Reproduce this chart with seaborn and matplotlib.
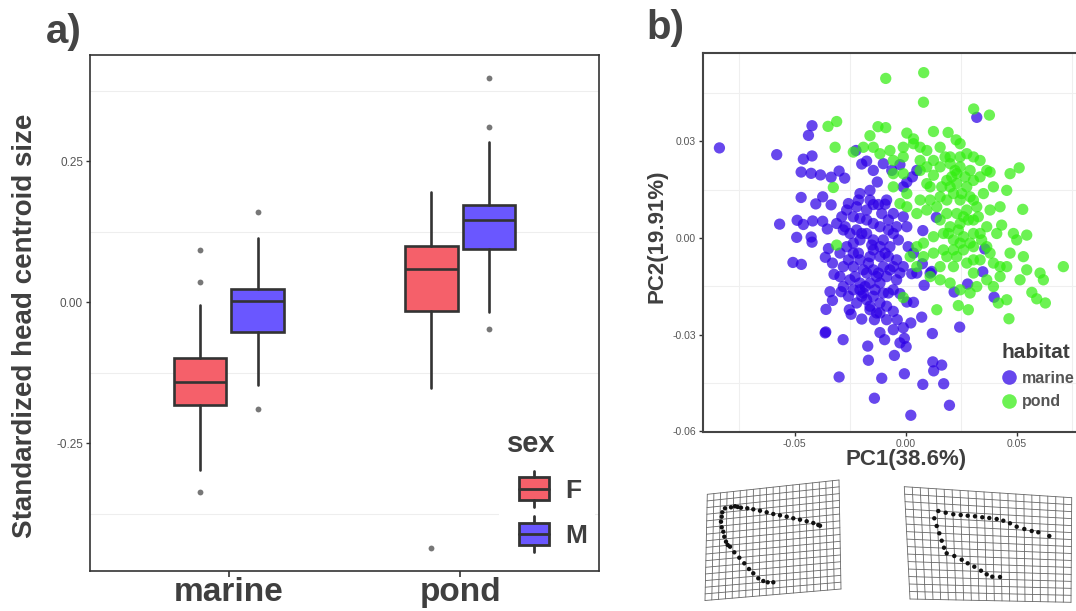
import numpy as np
import pandas as pd
import seaborn as sns
import matplotlib
matplotlib.use('Agg')
import matplotlib.pyplot as plt
from matplotlib.patches import Patch, Rectangle
from matplotlib.lines import Line2D
from matplotlib.legend_handler import HandlerBase

# ---- panel a: head centroid size by habitat and sex (box summaries) ----
habitats = ['marine', 'pond']
sexes = ['F', 'M']
# order: marine F, marine M, pond F, pond M
box_whislo = [-0.297, -0.147, -0.152, -0.017]
box_q1 = [-0.183, -0.053, -0.016, 0.095]
box_med = [-0.142, 0.002, 0.059, 0.146]
box_q3 = [-0.098, 0.024, 0.100, 0.173]
box_whishi = [-0.004, 0.114, 0.195, 0.285]
box_fliers = [[0.093, 0.036, -0.336], [0.160, -0.189], [-0.435], [0.398, 0.310, -0.047]]

# ---- panel b: PCA scores ----
marine_pc1 = [
    -0.0839, -0.0581, -0.0422, -0.0438, -0.0461, -0.0422, -0.0471, -0.0426, -0.0384, -0.0336,
    -0.0300, -0.0275, -0.0471, -0.0374, -0.0405, -0.0336, -0.0568, -0.0489, -0.0461, -0.0419,
    -0.0374, -0.0491, -0.0426, -0.0422, -0.0508, -0.0470, -0.0353, -0.0348, -0.0362, -0.0296,
    -0.0330, -0.0323, -0.0341, -0.0291, -0.0359, -0.0330, -0.0254, -0.0246, -0.0363, -0.0360,
    -0.0282, -0.0171, -0.0168, -0.0198, -0.0116, -0.0095, -0.0051, -0.0006, 0.0002, -0.0006,
    -0.0108, -0.0300, -0.0141, 0.0023, 0.0077, 0.0122, 0.0162, 0.0126, 0.0171, 0.0197,
    0.0120, 0.0072, 0.0243, 0.0218, 0.0279, 0.0347, 0.0398, 0.0356, 0.0320, 0.0138,
    0.0077, 0.0011, 0.0075, 0.0117, 0.0083, 0.0027, 0.0035, -0.0026, 0.0005, 0.0023,
    -0.0011, -0.0038, -0.0056, -0.0086, -0.0131, -0.0161, -0.0224, -0.0198, -0.0176, -0.0146,
    -0.0101, -0.0063, -0.0026, 0.0030, 0.0050, 0.0005, -0.0128, -0.0161, -0.0206, -0.0123,
    -0.0093, -0.0146, -0.0266, -0.0288, -0.0236, -0.0206, -0.0176, -0.0146, -0.0116, -0.0078,
    -0.0041, -0.0011, 0.0005, -0.0056, -0.0033, -0.0071, -0.0116, -0.0146, -0.0176, -0.0221,
    -0.0251, -0.0281, -0.0311, -0.0266, -0.0236, -0.0206, -0.0161, -0.0116, -0.0078, -0.0041,
    -0.0011, -0.0056, -0.0101, -0.0146, -0.0191, -0.0236, -0.0281, -0.0296, -0.0251, -0.0206,
    -0.0161, -0.0116, -0.0086, -0.0041, -0.0056, -0.0101, -0.0146, -0.0191, -0.0236, -0.0281,
    -0.0221, -0.0176, -0.0116, -0.0086, -0.0141, -0.0056, -0.0026, 0.0050, 0.0035, 0.0110,
    -0.0221, -0.0176, -0.0086, -0.0056, -0.0101, -0.0206, -0.0146, -0.0236, -0.0176, -0.0131,
    -0.0071, -0.0206, -0.0161, -0.0116, -0.0011,
    -0.0258, -0.0213, -0.0161, -0.0108, -0.0078, -0.0273, -0.0198, -0.0153, -0.0093, -0.0213,
    -0.0258, -0.0168, -0.0123, -0.0228, -0.0183, -0.0138, -0.0078, -0.0198, -0.0258, -0.0026,
]
marine_pc2 = [
    0.0280, 0.0259, 0.0349, 0.0319, 0.0245, 0.0255, 0.0205, 0.0201, 0.0196, 0.0189,
    0.0208, 0.0186, 0.0126, 0.0128, 0.0106, 0.0103, 0.0043, 0.0055, 0.0042, 0.0053,
    0.0052, 0.0002, 0.0003, -0.0013, -0.0076, -0.0082, 0.0028, -0.0033, -0.0060, -0.0047,
    -0.0078, -0.0113, -0.0167, -0.0167, -0.0222, -0.0194, -0.0223, -0.0237, -0.0295, -0.0292,
    -0.0316, -0.0336, -0.0380, -0.0252, -0.0294, -0.0316, -0.0365, -0.0312, -0.0338, -0.0422,
    -0.0436, -0.0432, -0.0498, -0.0551, -0.0455, -0.0385, -0.0395, -0.0413, -0.0453, -0.0520,
    -0.0297, -0.0246, -0.0277, -0.0168, -0.0143, -0.0105, -0.0184, -0.0034, 0.0375, 0.0064,
    0.0023, -0.0027, -0.0080, -0.0104, -0.0147, -0.0111, -0.0200, -0.0173, -0.0199, -0.0264,
    -0.0279, -0.0254, -0.0228, -0.0254, -0.0233, -0.0212, 0.0272, 0.0230, 0.0239, 0.0210,
    0.0231, 0.0210, 0.0228, 0.0190, 0.0210, 0.0174, 0.0174, 0.0148, 0.0138, 0.0104,
    0.0105, 0.0104, 0.0087, 0.0066, 0.0066, 0.0061, 0.0056, 0.0045, 0.0035, 0.0025,
    0.0035, 0.0066, 0.0035, 0.0076, -0.0006, -0.0027, -0.0027, -0.0006, 0.0014, 0.0025,
    0.0014, 0.0025, 0.0045, -0.0027, -0.0047, -0.0068, -0.0058, -0.0058, -0.0058, -0.0068,
    -0.0089, -0.0089, -0.0089, -0.0099, -0.0099, -0.0089, -0.0089, -0.0120, -0.0130, -0.0140,
    -0.0140, -0.0140, -0.0120, -0.0130, -0.0161, -0.0171, -0.0181, -0.0171, -0.0161, -0.0151,
    -0.0202, -0.0192, -0.0202, -0.0212, -0.0254, -0.0285, -0.0326, -0.0109, -0.0047, -0.0109,
    0.0097, 0.0087, 0.0118, 0.0014, -0.0006, -0.0006, -0.0037, -0.0016, -0.0109, -0.0120,
    -0.0099, -0.0161, -0.0223, -0.0233, 0.0159,
    0.0107, 0.0118, 0.0118, 0.0076, 0.0056, 0.0035, 0.0014, -0.0022, -0.0047, -0.0047,
    -0.0068, -0.0078, -0.0109, -0.0120, -0.0151, -0.0161, -0.0171, -0.0181, -0.0181, -0.0109,
]
pond_pc1 = [
    -0.0090, 0.0081, 0.0080, 0.0306, 0.0377, -0.0350, -0.0311, -0.0125, -0.0090, -0.0161,
    0.0005, 0.0035, 0.0125, 0.0191, 0.0227, 0.0245, -0.0318, -0.0236, -0.0191, -0.0146,
    -0.0116, -0.0071, -0.0011, 0.0035, 0.0065, 0.0095, 0.0155, 0.0200, 0.0245, 0.0275,
    0.0305, 0.0335, -0.0056, -0.0011, 0.0065, 0.0125, 0.0155, 0.0200, 0.0245, 0.0290,
    0.0365, 0.0380, 0.0470, 0.0511, -0.0056, -0.0011, 0.0065, 0.0125, 0.0185, 0.0230,
    0.0275, 0.0305, 0.0335, 0.0395, 0.0455, -0.0326, -0.0056, 0.0005, 0.0065, 0.0110,
    0.0155, 0.0200, 0.0215, 0.0245, 0.0290, 0.0350, 0.0425, 0.0527, 0.0320, 0.0275,
    0.0230, 0.0185, 0.0140, 0.0095, 0.0050, 0.0005, -0.0026, 0.0155, 0.0200, 0.0245,
    0.0305, 0.0365, 0.0432, 0.0485, 0.0545, 0.0500, 0.0305, 0.0260, 0.0215, 0.0170,
    0.0125, 0.0080, 0.0050, 0.0020, 0.0080, 0.0125, 0.0170, 0.0215, 0.0260, 0.0305,
    0.0365, 0.0470, 0.0530, 0.0710, 0.0605, 0.0620, 0.0545, 0.0515, 0.0425, 0.0425,
    0.0395, 0.0320, 0.0290, 0.0245, 0.0200, 0.0155, 0.0110, 0.0050, 0.0155, 0.0215,
    0.0275, 0.0335, 0.0395, 0.0455, 0.0568, 0.0590, 0.0629, 0.0417, 0.0455, 0.0465,
    0.0282, 0.0237, 0.0140, -0.0011, -0.0311, 0.0230, 0.0185, 0.0260, 0.0380, 0.0335,
    0.0230, 0.0305, 0.0365, 0.0095, 0.0305,
    0.0177, 0.0222, 0.0267, 0.0207, 0.0162, 0.0252, 0.0327, 0.0282, 0.0237, 0.0192,
    0.0342, 0.0290, 0.0245, 0.0185, 0.0380, 0.0110, 0.0095, 0.0410, 0.0305,
]
pond_pc2 = [
    0.0496, 0.0514, 0.0422, 0.0401, 0.0382, 0.0347, 0.0362, 0.0346, 0.0343, 0.0318,
    0.0326, 0.0308, 0.0331, 0.0328, 0.0305, 0.0293, 0.0282, 0.0267, 0.0282, 0.0282,
    0.0262, 0.0272, 0.0282, 0.0293, 0.0282, 0.0272, 0.0282, 0.0252, 0.0252, 0.0262,
    0.0252, 0.0241, 0.0241, 0.0252, 0.0241, 0.0241, 0.0221, 0.0231, 0.0221, 0.0210,
    0.0210, 0.0205, 0.0200, 0.0218, 0.0200, 0.0200, 0.0210, 0.0195, 0.0179, 0.0169,
    0.0159, 0.0179, 0.0190, 0.0159, 0.0148, 0.0157, 0.0159, 0.0138, 0.0118, 0.0118,
    0.0128, 0.0159, 0.0138, 0.0118, 0.0128, 0.0138, 0.0097, 0.0089, 0.0097, 0.0087,
    0.0076, 0.0076, 0.0097, 0.0087, 0.0076, 0.0097, 0.0107, 0.0056, 0.0035, 0.0045,
    0.0056, 0.0035, 0.0040, 0.0014, 0.0009, -0.0006, 0.0014, 0.0004, -0.0006, 0.0014,
    0.0004, -0.0016, -0.0027, -0.0058, -0.0058, -0.0047, -0.0037, -0.0037, -0.0037, -0.0027,
    -0.0027, -0.0047, -0.0058, -0.0089, -0.0109, -0.0130, -0.0099, -0.0130, -0.0089, -0.0120,
    -0.0151, -0.0151, -0.0171, -0.0161, -0.0140, -0.0130, -0.0120, -0.0089, -0.0089, -0.0089,
    -0.0078, -0.0068, -0.0078, -0.0089, -0.0169, -0.0189, -0.0202, -0.0202, -0.0192, -0.0251,
    -0.0223, -0.0210, -0.0223, -0.0185, -0.0022, 0.0200, 0.0118, 0.0066, 0.0087, 0.0014,
    -0.0058, -0.0109, -0.0130, 0.0169, 0.0118,
    0.0252, 0.0210, 0.0190, 0.0190, 0.0159, 0.0138, 0.0066, 0.0056, 0.0025, 0.0014,
    -0.0006, -0.0016, -0.0016, -0.0058, -0.0047, 0.0159, 0.0221, 0.0014, -0.0068,
]

# ---- deformation grids (pixel units of each thumbnail) ----
left_corners = [(12.3, 19.3), (144.0, 5.0), (146.0, 114.0), (10.0, 125.5)]
left_lm_x = [30.0, 36.0, 40.0, 42.7, 46.0, 52.3, 58.3, 65.0, 71.7, 78.3, 85.0, 91.7, 98.3,
             105.0, 111.7, 118.3, 123.3, 125.0, 27.3, 26.7, 26.0, 26.7, 28.3, 29.3, 31.0,
             32.7, 35.0, 39.3, 44.3, 49.3, 54.0, 58.3, 63.3, 68.3, 72.7, 78.3]
left_lm_y = [33.3, 32.3, 31.3, 32.0, 32.7, 33.3, 34.3, 35.7, 37.3, 39.0, 40.3, 41.7, 43.3,
             44.7, 46.3, 48.0, 50.0, 50.7, 37.3, 41.7, 46.7, 52.3, 56.7, 61.7, 66.7,
             70.0, 71.7, 77.3, 82.7, 88.3, 94.0, 98.3, 103.3, 106.0, 107.3, 107.3]
right_corners = [(9.3, 11.7), (176.7, 22.7), (176.0, 127.3), (15.0, 124.0)]
right_lm_x = [43.3, 50.7, 58.3, 65.7, 72.7, 80.0, 87.3, 94.3, 101.7, 108.3, 115.0, 121.7,
              129.3, 136.7, 143.3, 154.3, 39.3, 41.7, 44.3, 46.7, 49.0, 51.7, 59.3, 66.7,
              72.7, 79.3, 86.0, 91.7, 97.3, 105.0]
right_lm_y = [36.0, 37.7, 39.3, 40.0, 40.7, 41.3, 42.3, 43.0, 44.0, 45.7, 48.3, 51.7,
              54.0, 56.0, 57.3, 61.0, 43.3, 51.0, 58.3, 65.7, 72.7, 78.3, 81.0, 84.7,
              88.3, 91.7, 95.7, 99.3, 101.7, 102.0]

RED = '#f5606a'
BLUE = '#6a57ff'
TXT = '#3f3f3f'
EDGE = '#333333'

sns.set_theme(style='white')
plt.rcParams['font.family'] = ['Liberation Sans', 'DejaVu Sans']
plt.rcParams['axes.unicode_minus'] = False

fig = plt.figure(figsize=(10.76, 6.11), dpi=100)
W, H = 1076, 611


def px_axes(l, t, r, b):
    return fig.add_axes([l / W, 1 - b / H, (r - l) / W, (b - t) / H])


class BoxKey(HandlerBase):
    # mini boxplot key, drawn in the right part of the handle box so that the
    # legend title sits a little to the left of the keys (as in ggplot)
    def create_artists(self, legend, orig, xd, yd, w, h, fontsize, trans):
        fc = orig.get_facecolor()
        bw = h * 1.32
        x0, y0 = -xd + w - bw, -yd
        rect = Rectangle((x0, y0), bw, h, facecolor=fc, edgecolor=EDGE, lw=2, transform=trans)
        med = Line2D([x0, x0 + bw], [y0 + h / 2] * 2, color=EDGE, lw=2, transform=trans)
        top = Line2D([x0 + bw / 2] * 2, [y0 + h, y0 + h * 1.3], color=EDGE, lw=2, transform=trans)
        bot = Line2D([x0 + bw / 2] * 2, [y0, y0 - h * 0.3], color=EDGE, lw=2, transform=trans)
        return [rect, med, top, bot]


# ---------------- panel a ----------------
ax_a = px_axes(90, 55, 599, 571)
for y in [-0.375, -0.125, 0.125, 0.375]:
    ax_a.axhline(y, color='#eeeeee', lw=0.8, zorder=0)

stats = []
positions = []
colors = []
for i, hab in enumerate(habitats):
    for j, sx in enumerate(sexes):
        k = i * 2 + j
        stats.append(dict(med=box_med[k], q1=box_q1[k], q3=box_q3[k],
                          whislo=box_whislo[k], whishi=box_whishi[k],
                          fliers=box_fliers[k], label=f'{hab} {sx}'))
        positions.append(i + (-0.125 if sx == 'F' else 0.125))
        colors.append(RED if sx == 'F' else BLUE)

bp = ax_a.bxp(stats, positions=positions, widths=0.227, patch_artist=True,
              showcaps=False, manage_ticks=False,
              boxprops=dict(edgecolor=EDGE, linewidth=1.9),
              medianprops=dict(color=EDGE, linewidth=1.9),
              whiskerprops=dict(color=EDGE, linewidth=1.9),
              flierprops=dict(marker='o', markerfacecolor='#777777', markeredgecolor='none',
                              markersize=4.2))
for patch, c in zip(bp['boxes'], colors):
    patch.set_facecolor(c)

ax_a.set_xlim(-0.6, 1.6)
ax_a.set_ylim(-0.4765, 0.4385)
ax_a.set_xticks([0, 1])
ax_a.set_xticklabels(habitats, fontsize=24, fontweight='bold', color=TXT)
ax_a.set_yticks([-0.25, 0, 0.25])
ax_a.set_yticklabels(['-0.25', '0.00', '0.25'], fontsize=8.5, color='#555555')
ax_a.tick_params(axis='x', length=4, width=1.2, color=EDGE, pad=0, bottom=True)
ax_a.tick_params(axis='y', length=3, width=1.0, color=EDGE, pad=2, left=True)
for sp in ax_a.spines.values():
    sp.set_color(EDGE)
    sp.set_linewidth(1.2)

leg_a = ax_a.legend(handles=[Patch(facecolor=RED), Patch(facecolor=BLUE)], labels=sexes,
                    title='sex', handler_map={Patch: BoxKey()},
                    loc='upper left', bbox_to_anchor=(0.778, 0.315), frameon=True,
                    facecolor='white', edgecolor='none', fancybox=False, framealpha=1,
                    prop=dict(size=19, weight='bold'), handlelength=1.6, handleheight=0.95,
                    labelspacing=0.75, handletextpad=0.6, borderpad=0.3)
leg_a._legend_box.align = 'left'
leg_a.get_title().set_fontsize(21)
leg_a.get_title().set_fontweight('bold')
leg_a.get_title().set_color(TXT)
for t in leg_a.get_texts():
    t.set_color(TXT)

fig.text(25.5 / W, 1 - 326 / H, 'Standardized head centroid size', rotation=90,
         ha='center', va='center', fontsize=20, fontweight='bold', color=TXT)
fig.text(46 / W, 1 - 32 / H, 'a)', ha='left', va='center', fontsize=29,
         fontweight='bold', color='#444444')

# ---------------- panel b ----------------
ax_b = px_axes(703, 53, 1090, 432)
for x in [-0.075, -0.025, 0.025, 0.075]:
    ax_b.axvline(x, color='#efefef', lw=0.8, zorder=0)
for y in [-0.045, -0.015, 0.015, 0.045]:
    ax_b.axhline(y, color='#efefef', lw=0.8, zorder=0)

pca = pd.DataFrame({
    'pc1': marine_pc1 + pond_pc1,
    'pc2': marine_pc2 + pond_pc2,
    'habitat': ['marine'] * len(marine_pc1) + ['pond'] * len(pond_pc1),
})
palette = {'marine': '#2d00e6', 'pond': '#33ee11'}
sns.scatterplot(data=pca, x='pc1', y='pc2', hue='habitat', palette=palette, alpha=0.72,
                s=66, edgecolor='none', legend=False, ax=ax_b, zorder=3)

ax_b.set_xlim(-0.0913, 0.083)
ax_b.set_ylim(-0.0603, 0.0575)
ax_b.set_xticks([-0.05, 0, 0.05])
ax_b.set_xticklabels(['-0.05', '0.00', '0.05'], fontsize=7.5, color='#555555')
ax_b.set_yticks([-0.06, -0.03, 0, 0.03])
ax_b.set_yticklabels(['-0.06', '-0.03', '0.00', '0.03'], fontsize=7.5, color='#555555')
ax_b.tick_params(length=3, width=1.0, color=EDGE, pad=2, bottom=True, left=True)
ax_b.set_xlabel('')
ax_b.set_ylabel('')
for sp in ax_b.spines.values():
    sp.set_color('#444444')
    sp.set_linewidth(1.5)

hab_handles = [Line2D([], [], marker='o', ls='none', markersize=10.5, markeredgecolor='none',
                      markerfacecolor=palette[h], alpha=0.72) for h in habitats]
leg_b = ax_b.legend(handles=hab_handles, labels=habitats, title='habitat',
                    loc='upper left', bbox_to_anchor=(0.742, 0.265), frameon=False,
                    prop=dict(size=11.5, weight='bold'), handlelength=1.0,
                    handletextpad=0.3, labelspacing=0.55, borderpad=0.2)
leg_b._legend_box.align = 'left'
leg_b.get_title().set_fontsize(15)
leg_b.get_title().set_fontweight('bold')
leg_b.get_title().set_color(TXT)
for t in leg_b.get_texts():
    t.set_color('#555555')

fig.text(906 / W, 1 - 460 / H, 'PC1(38.6%)', ha='center', va='center', fontsize=16,
         fontweight='bold', color=TXT)
fig.text(657 / W, 1 - 236 / H, 'PC2(19.91%)', rotation=90, ha='center', va='center',
         fontsize=16, fontweight='bold', color=TXT)
fig.text(646 / W, 1 - 28 / H, 'b)', ha='left', va='center', fontsize=29,
         fontweight='bold', color='#444444')


# ---------------- deformation grids ----------------
def draw_grid(ax, corners, ncol, nrow, lm_x, lm_y):
    (tlx, tly), (trx, try_), (brx, bry), (blx, bly) = corners

    def warp(u, v):
        x = (1 - u) * (1 - v) * tlx + u * (1 - v) * trx + u * v * brx + (1 - u) * v * blx
        y = (1 - u) * (1 - v) * tly + u * (1 - v) * try_ + u * v * bry + (1 - u) * v * bly
        return x, y

    t = np.linspace(0, 1, 60)
    for i in range(ncol + 1):
        x, y = warp(np.full_like(t, i / ncol), t)
        ax.plot(x, y, color='#666666', lw=0.6)
    for j in range(nrow + 1):
        x, y = warp(t, np.full_like(t, j / nrow))
        ax.plot(x, y, color='#666666', lw=0.6)
    ax.scatter(lm_x, lm_y, s=10, color='#111111', zorder=3, edgecolor='none')


g1 = px_axes(695, 475, 845, 611)
g1.set_xlim(0, 150)
g1.set_ylim(136, 0)
g1.axis('off')
draw_grid(g1, left_corners, 20, 16, left_lm_x, left_lm_y)

g2 = px_axes(895, 475, 1076, 611)
g2.set_xlim(0, 181)
g2.set_ylim(136, 0)
g2.axis('off')
draw_grid(g2, right_corners, 21, 15, right_lm_x, right_lm_y)

fig.savefig('out.png', dpi=100)
